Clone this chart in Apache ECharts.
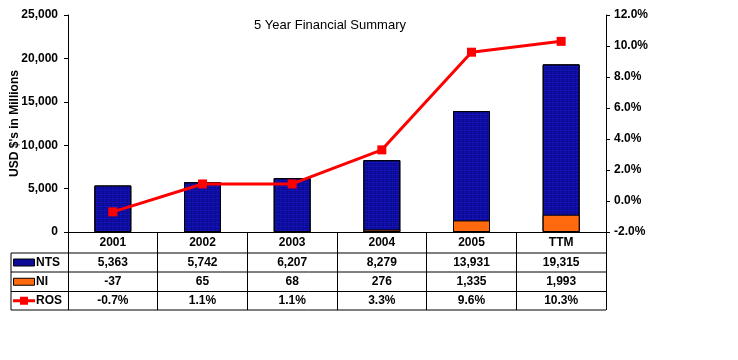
<!DOCTYPE html>
<html><head><meta charset="utf-8">
<script src="https://cdn.jsdelivr.net/npm/echarts@6/dist/echarts.min.js"></script>
<style>html,body{margin:0;padding:0;background:#fff}#c{width:738px;height:360px}</style>
</head><body><div id="c"></div>
<script>
const categories = ['2001','2002','2003','2004','2005','TTM'];
const ntsValues = [5363,5742,6207,8279,13931,19315];
const niValues = [-37,65,68,276,1335,1993];
const rosValues = [-0.7,1.1,1.1,3.3,9.6,10.3];
const leftTicks = [0,5000,10000,15000,20000,25000];
const rightTicks = [-2,0,2,4,6,8,10,12];

const FONT = '"Liberation Sans", Arial, sans-serif';
const NAVY = '#0c0c98';
const ORANGE = '#ff6a0e';
const RED = '#ff0000';

const chart = echarts.init(document.getElementById('c'), null, {renderer:'canvas'});
const fmtNum = v => v.toLocaleString('en-US');
const fmtPct = v => v.toFixed(1) + '%';

chart.setOption({
  animation:false,
  backgroundColor:'#fff',
  textStyle:{fontFamily:FONT},
  title:{text:'5 Year Financial Summary', left:249, top:14,
    textStyle:{fontFamily:FONT, fontSize:13, fontWeight:'normal', color:'#000'}},
  grid:{left:68, right:132, top:15, bottom:128, containLabel:false, outerBoundsMode:'none'},
  xAxis:{type:'category', data:categories, boundaryGap:true,
    axisLine:{lineStyle:{color:'#000', width:1}},
    axisTick:{show:true, length:78, lineStyle:{color:'#000'}},
    axisLabel:{margin:5, color:'#000', fontSize:12, fontWeight:'bold', fontFamily:FONT, lineHeight:12}},
  yAxis:[
    {type:'value', min:leftTicks[0], max:leftTicks[leftTicks.length-1], interval:5000,
     name:"USD $'s in Millions", nameLocation:'middle', nameGap:47, nameRotate:90, nameMoveOverlap:false,
     nameTextStyle:{fontFamily:FONT, fontSize:12, fontWeight:'bold', color:'#000'},
     axisLine:{show:true, lineStyle:{color:'#000'}},
     axisTick:{show:true, length:4, lineStyle:{color:'#000'}},
     splitLine:{show:false},
     axisLabel:{margin:10, color:'#000', fontSize:12, fontWeight:'bold', fontFamily:FONT, formatter:v=>fmtNum(v)}},
    {type:'value', min:rightTicks[0], max:rightTicks[rightTicks.length-1], interval:2,
     position:'right',
     axisLine:{show:true, lineStyle:{color:'#000'}},
     axisTick:{show:true, length:4, lineStyle:{color:'#000'}},
     splitLine:{show:false},
     axisLabel:{margin:8, color:'#000', fontSize:12, fontWeight:'bold', fontFamily:FONT, formatter:v=>fmtPct(v)}}
  ],
  series:[
    {name:'NTS', type:'bar', data:ntsValues, barWidth:37, barGap:'-100%',
     itemStyle:{color:NAVY, borderColor:'#000', borderWidth:1,
       decal:{symbol:'rect', symbolSize:1, dashArrayX:[[3,1],[1,3]], dashArrayY:[1,1], color:'rgba(30,30,230,0.55)'}}},
    {name:'NI', type:'bar', data:niValues, barWidth:37, barGap:'-100%',
     itemStyle:{color:ORANGE, borderColor:'#000', borderWidth:1}},
    {name:'ROS', type:'line', yAxisIndex:1, data:rosValues, symbol:'rect', symbolSize:9,
     lineStyle:{color:RED, width:3}, itemStyle:{color:RED}}
  ]
});

// Data table below the axis, derived from the chart's own scale
(function(){
  const centers = categories.map((c,i)=>chart.convertToPixel({xAxisIndex:0}, i));
  const band = centers[1]-centers[0];
  const xR = centers[centers.length-1]+band/2;
  const y0 = chart.convertToPixel({yAxisIndex:0}, 0);
  const rowTops = [y0+21, y0+40, y0+59.5, y0+78];
  const boxL = 11;
  const g = [];
  rowTops.forEach(y=>g.push({type:'line', shape:{x1:boxL, y1:y, x2:xR, y2:y}, style:{stroke:'#000', lineWidth:1}}));
  g.push({type:'line', shape:{x1:boxL, y1:rowTops[0], x2:boxL, y2:rowTops[3]}, style:{stroke:'#000', lineWidth:1}});
  const rows = [ntsValues.map(fmtNum), niValues.map(fmtNum), rosValues.map(fmtPct)];
  const names = ['NTS','NI','ROS'];
  rows.forEach((r,ri)=>{
    const cy = (rowTops[ri]+rowTops[ri+1])/2;
    r.forEach((t,i)=>g.push({type:'text', x:centers[i], y:cy,
      style:{text:t, fill:'#000', font:'bold 12px '+FONT, textAlign:'center', textVerticalAlign:'middle'}}));
    g.push({type:'text', x:36, y:cy, style:{text:names[ri], fill:'#000', font:'bold 12px '+FONT, textAlign:'left', textVerticalAlign:'middle'}});
  });
  const cy0 = (rowTops[0]+rowTops[1])/2, cy1=(rowTops[1]+rowTops[2])/2, cy2=(rowTops[2]+rowTops[3])/2;
  g.push({type:'rect', shape:{x:13.5, y:cy0-3.5, width:21, height:7}, style:{fill:NAVY, stroke:'#000', lineWidth:1}});
  g.push({type:'rect', shape:{x:13.5, y:cy1-3.5, width:21, height:7}, style:{fill:ORANGE, stroke:'#000', lineWidth:1}});
  g.push({type:'line', shape:{x1:13, y1:cy2, x2:35, y2:cy2}, style:{stroke:RED, lineWidth:3}});
  g.push({type:'rect', shape:{x:20, y:cy2-4, width:8, height:8}, style:{fill:RED}});
  chart.setOption({graphic:g});
})();
</script></body></html>
